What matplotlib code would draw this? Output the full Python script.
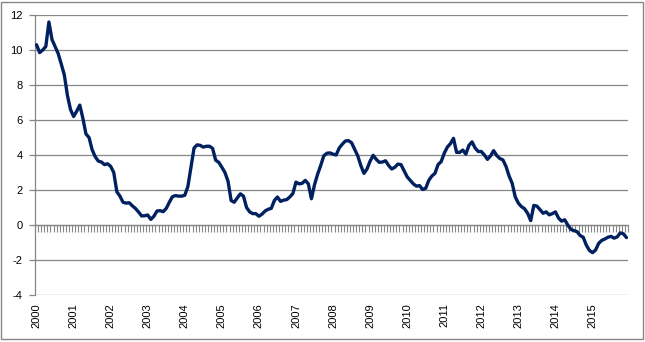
import numpy as np
import matplotlib
matplotlib.use("Agg")
from matplotlib import pyplot as plt
from matplotlib.patches import Rectangle

plt.rcParams['font.family'] = 'Liberation Sans'
plt.rcParams['axes.unicode_minus'] = False

# monthly values, Jan 2000 - Dec 2015
years = [str(y) for y in range(2000, 2016)]
values = [
    # 2000
    10.3, 9.85, 10.0, 10.2, 11.6, 10.6, 10.2, 9.8, 9.2, 8.57, 7.4, 6.6,
    # 2001
    6.2, 6.5, 6.85, 6.1, 5.2, 5.0, 4.3, 3.9, 3.65, 3.6, 3.45, 3.5,
    # 2002
    3.35, 3.0, 1.9, 1.65, 1.3, 1.25, 1.27, 1.1, 0.95, 0.75, 0.52, 0.53,
    # 2003
    0.57, 0.32, 0.5, 0.8, 0.82, 0.76, 0.95, 1.3, 1.62, 1.68, 1.65, 1.65,
    # 2004
    1.7, 2.2, 3.3, 4.4, 4.58, 4.55, 4.45, 4.5, 4.5, 4.38, 3.7, 3.58,
    # 2005
    3.3, 3.0, 2.5, 1.4, 1.3, 1.55, 1.78, 1.65, 1.0, 0.75, 0.65, 0.65,
    # 2006
    0.5, 0.62, 0.8, 0.9, 0.95, 1.4, 1.6, 1.35, 1.42, 1.45, 1.6, 1.8,
    # 2007
    2.45, 2.35, 2.38, 2.55, 2.35, 1.5, 2.3, 2.9, 3.4, 3.95, 4.1, 4.12,
    # 2008
    4.05, 4.0, 4.4, 4.62, 4.8, 4.82, 4.7, 4.32, 3.95, 3.4, 2.95, 3.2,
    # 2009
    3.65, 3.98, 3.75, 3.58, 3.6, 3.67, 3.4, 3.2, 3.3, 3.48, 3.45, 3.1,
    # 2010
    2.75, 2.55, 2.35, 2.22, 2.25, 2.03, 2.1, 2.55, 2.8, 2.95, 3.45, 3.62,
    # 2011
    4.1, 4.45, 4.65, 4.95, 4.15, 4.15, 4.28, 4.05, 4.55, 4.75, 4.4, 4.2,
    # 2012
    4.2, 4.0, 3.75, 3.95, 4.25, 3.97, 3.8, 3.72, 3.35, 2.8, 2.38, 1.6,
    # 2013
    1.25, 1.05, 0.93, 0.67, 0.25, 1.12, 1.08, 0.88, 0.67, 0.75, 0.58, 0.65,
    # 2014
    0.75, 0.4, 0.22, 0.3, 0.0, -0.25, -0.32, -0.38, -0.6, -0.7, -1.15, -1.45,
    # 2015
    -1.58, -1.43, -1.05, -0.88, -0.8, -0.7, -0.65, -0.75, -0.68, -0.45, -0.5, -0.72,
]

grid_c = '#868686'
x = np.arange(len(values))

fig = plt.figure(figsize=(6.45, 3.42), dpi=100, facecolor='w')
ax = fig.add_axes([35 / 645, 1 - 295 / 342, (628 - 35) / 645, 280 / 342])

ax.plot(x, values, color='#002060', linewidth=2.4, solid_joinstyle='round',
        solid_capstyle='round', zorder=4)

ax.set_xlim(-0.5, len(values) - 0.5)
ax.set_ylim(-4, 12)
ax.set_yticks(np.arange(-4, 13, 2))
ax.yaxis.grid(True, color=grid_c, linewidth=0.9, zorder=0)
ax.tick_params(axis='y', direction='out', length=4, width=0.9, color=grid_c,
               labelsize=8, pad=5)

# year labels under the plot, one per january
ax.set_xticks(x[::12])
ax.set_xticklabels(years, rotation=90, fontsize=8)
ax.tick_params(axis='x', length=0, pad=6)

for s in ['top', 'right', 'bottom']:
    ax.spines[s].set_visible(False)
ax.spines['left'].set_color(grid_c)
ax.spines['left'].set_linewidth(0.9)

# category axis crossing at zero with month tick marks
sec = ax.secondary_xaxis(4 / 16)
sec.set_xticks(np.arange(-0.5, len(values), 1.0))
sec.set_xticklabels([])
sec.tick_params(direction='out', length=5, width=0.8, color=grid_c)
sec.spines['bottom'].set_color(grid_c)
sec.spines['bottom'].set_linewidth(0.9)

# chart border
fig.patches.append(Rectangle((1 / 645, 3 / 342), 642 / 645, 337 / 342,
                             transform=fig.transFigure, fill=False,
                             edgecolor=grid_c, linewidth=1.0))

fig.savefig('out.png', dpi=100)
